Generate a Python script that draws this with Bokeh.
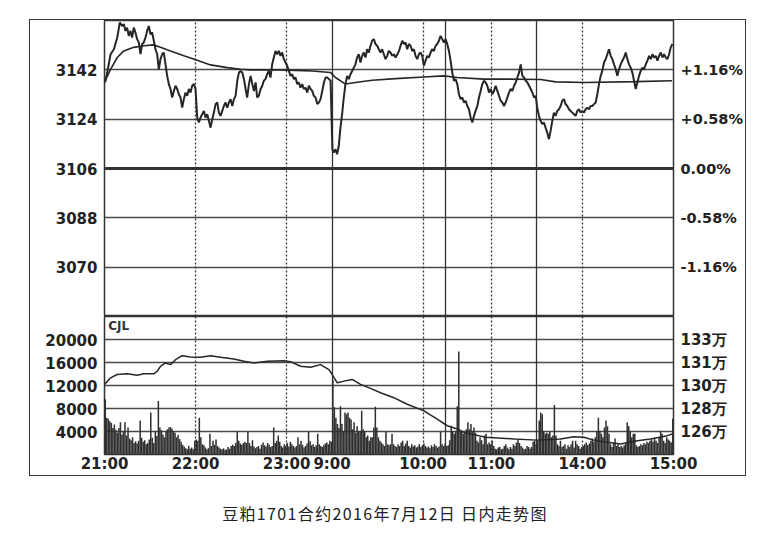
from bokeh.plotting import figure
from bokeh.models import Range1d, LinearAxis, FixedTicker, Grid, Span, Label, Div, Spacer
from bokeh.layouts import column, row
from bokeh.embed import file_html
from bokeh.resources import INLINE

# ---------------- data ----------------
prev_close = 3106
price_ticks = [3070, 3088, 3106, 3124, 3142]
pct_labels = ["-1.16%", "-0.58%", "0.00%", "+0.58%", "+1.16%"]
vol_ticks = [4000, 8000, 12000, 16000, 20000]
oi_labels = ["126万", "128万", "130万", "131万", "133万"]
time_ticks = [0, 60, 120, 150, 210, 255, 315, 375]          # trading-minute offsets
time_labels = ["21:00", "22:00", "23:00", "9:00", "10:00", "11:00", "14:00", "15:00"]
hour_marks = [60, 120, 210, 255, 315]       # dotted hour lines
session_breaks = [150, 225, 285]            # solid session breaks
caption_text = "豆粕1701合约2016年7月12日 日内走势图"

price_min = [0.4, 1.8, 4.0, 6.2, 8.4, 10.1, 11.6, 12.7, 13.8, 14.9, 16.0, 17.1, 18.2, 19.3, 20.4, 21.5, 22.6, 23.7, 24.8, 25.9,
             27.0, 28.1, 29.2, 30.3, 31.4, 32.5, 33.6, 34.7, 35.8, 36.9, 38.0, 39.1, 40.2, 41.3, 42.4, 43.5, 44.6, 45.7, 46.8, 47.9,
             49.0, 50.1, 51.2, 52.3, 53.4, 54.5, 55.6, 56.7, 57.8, 58.9, 60.0, 61.1, 62.2, 63.3, 64.4, 65.5, 66.6, 67.7, 68.8, 69.9,
             71.0, 72.1, 73.2, 74.3, 75.4, 76.5, 77.6, 78.7, 79.8, 80.9, 82.0, 83.1, 84.2, 85.3, 86.4, 87.5, 88.6, 89.7, 90.8, 91.9,
             93.0, 94.0, 95.2, 96.3, 97.4, 98.5, 99.6, 100.6, 101.7, 102.9, 104.0, 105.0, 106.1, 107.2, 108.3, 109.4, 110.5, 111.6, 112.7, 113.8,
             114.9, 116.0, 117.1, 118.2, 119.3, 120.4, 121.5, 122.6, 123.7, 124.8, 125.9, 127.0, 128.1, 129.2, 130.3, 131.4, 132.5, 133.6, 134.7, 135.8,
             136.9, 138.0, 139.1, 140.2, 141.3, 142.4, 143.5, 144.6, 145.7, 146.8, 147.9, 149.0,
             150.2, 151.1, 152.2, 153.3, 154.4, 155.5, 156.6, 157.7, 158.8, 159.9, 161.0, 162.1, 163.2, 164.3, 165.4, 166.5, 167.6, 168.7,
             169.8, 170.9, 172.0, 173.1, 174.2, 175.3, 176.4, 177.5, 178.6, 179.7, 180.8, 181.9, 183.0, 184.1, 185.2, 186.3, 187.4, 188.5,
             189.6, 190.7, 191.8, 193.0, 194.1, 195.1, 196.3, 197.3, 198.4, 199.5, 200.6, 201.7, 202.8, 203.9, 205.0, 206.1, 207.2, 208.3,
             209.4, 210.5, 211.6, 212.7, 213.8, 214.9, 216.0, 217.1, 218.2, 219.3, 220.4, 221.5, 222.6, 223.7, 224.8,
             225.9, 227.0, 228.1, 229.2, 230.3, 231.4, 232.5, 233.6, 234.7, 235.8, 236.9, 238.0, 239.1, 240.2, 241.3, 242.4, 243.5, 244.6,
             245.7, 246.8, 247.9, 249.0, 250.1, 251.2, 252.3, 253.4, 254.5, 255.6, 256.7, 257.8, 258.9, 260.0, 261.1, 262.2, 263.3, 264.4,
             265.5, 266.6, 267.7, 268.8, 269.9, 271.0, 272.1, 273.2, 274.3, 275.4, 276.5, 277.6, 278.7, 279.8, 280.9, 282.0, 283.1, 284.2,
             285.2, 286.3, 287.4, 288.5, 289.6, 290.7, 291.8, 292.9, 294.0, 295.1, 296.2, 297.3, 298.4, 299.5, 300.6, 301.7, 302.8, 303.9,
             305.0, 306.1, 307.2, 308.3, 309.4, 310.5, 311.6, 312.7, 313.8, 314.9, 316.0, 317.1, 318.2, 319.3, 320.4, 321.5, 322.6, 323.7,
             324.8, 325.9, 327.0, 328.1, 329.2, 330.3, 331.4, 332.5, 333.6, 334.7, 335.8, 336.9, 338.0, 339.1, 340.2, 341.3, 342.4, 343.5,
             344.6, 345.7, 346.8, 347.9, 349.0, 350.1, 351.2, 352.3, 353.4, 354.5, 355.6, 356.7, 357.8, 358.9, 360.0, 361.1, 362.2, 363.3,
             364.4, 365.5, 366.6, 367.7, 368.8, 369.9, 371.0, 372.1, 373.2, 374.3]
price_val = [3137.4, 3141.0, 3147.7, 3149.5, 3153.8, 3159.3, 3158.0, 3158.7, 3156.2, 3157.4, 3154.4, 3156.2, 3153.8, 3157.4, 3155.6, 3153.2, 3152.0, 3147.7, 3151.4, 3152.0,
             3153.8, 3156.2, 3158.0, 3155.0, 3155.6, 3152.6, 3149.5, 3147.7, 3142.2, 3145.9, 3147.7, 3148.3, 3144.0, 3139.8, 3136.8, 3135.0, 3131.9, 3134.3, 3136.2, 3135.0,
             3133.1, 3131.9, 3128.2, 3131.3, 3133.7, 3132.5, 3135.0, 3133.7, 3136.2, 3136.8, 3135.0, 3124.6, 3122.8, 3124.6, 3125.8, 3127.0, 3124.6, 3125.8, 3123.4, 3120.9,
             3124.0, 3126.4, 3129.5, 3130.1, 3126.4, 3125.2, 3127.0, 3128.8, 3130.1, 3128.2, 3130.1, 3131.3, 3128.8, 3131.3, 3132.5, 3138.0, 3141.0, 3141.6, 3141.0, 3138.6,
             3135.0, 3131.9, 3136.8, 3139.8, 3136.8, 3134.3, 3137.4, 3131.9, 3132.5, 3135.0, 3136.2, 3138.0, 3138.6, 3140.4, 3141.6, 3139.2, 3144.0, 3146.5, 3148.9, 3147.7,
             3148.9, 3147.1, 3148.3, 3145.9, 3144.7, 3143.5, 3141.6, 3139.8, 3140.4, 3138.6, 3139.2, 3136.8, 3137.4, 3135.5, 3136.8, 3135.0, 3135.5, 3133.7, 3136.2, 3135.0,
             3134.3, 3132.5, 3131.9, 3129.5, 3130.1, 3131.3, 3134.3, 3137.4, 3139.2, 3139.2, 3138.6, 3138.0,
             3113.0, 3111.8, 3113.0, 3111.2, 3114.2, 3120.9, 3125.8, 3131.9, 3136.8, 3139.8, 3138.6, 3140.4, 3141.6, 3142.8, 3144.0, 3146.5, 3147.7, 3144.7,
             3147.1, 3148.3, 3146.5, 3149.5, 3148.3, 3150.8, 3152.6, 3153.2, 3151.4, 3150.8, 3149.5, 3148.3, 3149.5, 3147.7, 3145.9, 3147.1, 3148.9, 3148.3,
             3147.1, 3147.7, 3146.5, 3147.7, 3148.9, 3150.8, 3152.6, 3151.4, 3152.0, 3149.5, 3151.4, 3150.8, 3148.9, 3149.5, 3147.1, 3145.9, 3147.7, 3148.3,
             3147.1, 3143.5, 3145.3, 3147.1, 3146.5, 3148.3, 3149.5, 3148.9, 3150.8, 3151.4, 3152.6, 3154.4, 3153.2, 3152.0, 3153.2,
             3151.4, 3148.9, 3145.3, 3141.0, 3138.0, 3138.6, 3136.8, 3133.1, 3131.3, 3131.9, 3130.1, 3130.7, 3128.8, 3127.6, 3124.6, 3122.8, 3125.2, 3127.0,
             3128.8, 3131.9, 3134.3, 3136.8, 3138.0, 3137.4, 3136.2, 3133.7, 3135.0, 3133.1, 3134.3, 3136.2, 3134.3, 3132.5, 3130.7, 3130.1, 3128.8, 3130.1,
             3131.9, 3133.7, 3135.0, 3134.3, 3136.2, 3137.4, 3139.2, 3141.0, 3144.0, 3139.8, 3139.2, 3138.0, 3137.4, 3136.2, 3135.0, 3133.7, 3131.9, 3132.5,
             3128.2, 3125.2, 3123.4, 3122.2, 3122.8, 3120.9, 3119.1, 3116.7, 3119.7, 3123.4, 3126.4, 3125.2, 3127.0, 3127.6, 3128.8, 3130.7, 3131.3, 3129.5,
             3128.8, 3127.6, 3127.0, 3126.4, 3125.8, 3125.2, 3127.0, 3127.6, 3126.4, 3127.0, 3126.4, 3127.6, 3128.2, 3127.6, 3128.8, 3128.8, 3129.5, 3130.1,
             3133.1, 3136.8, 3139.8, 3141.6, 3144.7, 3145.9, 3147.7, 3149.5, 3147.1, 3145.9, 3144.0, 3142.2, 3139.8, 3142.2, 3144.0, 3145.3, 3146.5, 3148.3,
             3145.9, 3144.0, 3142.8, 3141.0, 3138.0, 3135.0, 3137.4, 3139.8, 3141.6, 3142.8, 3142.2, 3144.0, 3145.3, 3147.1, 3145.9, 3147.7, 3146.5, 3147.1,
             3145.3, 3147.1, 3148.3, 3146.5, 3147.7, 3146.5, 3145.9, 3147.7, 3150.2, 3151.4]

avg_min = [0.4, 4.0, 8.4, 12.7, 19.3, 25.9, 32.5, 36.9, 43.5, 52.3, 61.1, 69.9, 80.9, 89.7, 96.3, 114.9, 136.9, 149.0,
           152.2, 158.8, 165.4, 176.4, 191.8, 210.5, 223.7, 232.5, 250.1, 265.5, 287.5, 297.3, 317.1, 350.1, 374.0]
avg_val = [3138.0, 3142.2, 3146.5, 3148.9, 3150.2, 3150.8, 3151.1, 3150.2, 3148.9, 3147.1, 3145.5, 3143.8, 3142.8, 3142.2, 3142.0, 3142.0, 3141.6, 3141.0,
           3139.2, 3136.8, 3137.4, 3138.2, 3138.8, 3139.4, 3139.8, 3139.2, 3138.6, 3138.6, 3138.5, 3137.6, 3137.4, 3137.7, 3138.0]

# open-interest line, drawn on the volume scale
oi_min = [0, 4.0, 8.3, 14.9, 21.5, 25.9, 32.5, 34.7, 36.9, 40.2, 43.5, 46.8, 51.2, 56.7, 63.3, 69.9, 76.5, 85.3, 91.9, 98.5,
          107.3, 118.2, 122.6, 129.2, 135.8, 142.4, 147.9, 150.1, 153.4, 157.8, 163.2, 168.7, 175.3, 181.9, 190.7, 199.5, 210.5,
          219.3, 225.9, 232.5, 236.9, 251.2, 270.0, 285.0, 300.6, 309.3, 315.9, 323.6, 331.3, 340.1, 351.1, 359.9, 370.9, 374.2]
oi_val = [12190, 13330, 13910, 14030, 13800, 14030, 14030, 14480, 15340, 15920, 15630, 16490, 17180, 16950, 16900, 17180, 16900, 16600, 16200, 15920,
          16200, 16320, 16150, 15340, 15170, 15630, 14770, 13910, 12470, 12760, 13050, 12190, 11500, 10750, 9880, 8740, 7590,
          6150, 5000, 4430, 3850, 2990, 2700, 2500, 2700, 3100, 3000, 2410, 2130, 1840, 2410, 2700, 3280, 3560]

volume = [9600, 6400, 6200, 5800, 5500, 4600, 5200, 4300, 3800, 4600,
          5600, 3500, 4000, 5600, 3300, 4700, 2800, 2500, 3000, 2000,
          2300, 1900, 2400, 5900, 2900, 2200, 2500, 1800, 2000, 2600,
          7300, 2900, 2000, 4100, 3200, 9300, 4700, 4200, 3500, 3000,
          4100, 4400, 4700, 4800, 4500, 4100, 3800, 3000, 3400, 2700,
          2200, 1700, 1400, 1100, 900, 1500, 1000, 1200, 900, 2400,
          2600, 2400, 6400, 3000, 1800, 1600, 1200, 900, 1100, 3600,
          1500, 2400, 1700, 2600, 1500, 1200, 1000, 900, 1100, 800,
          900, 1300, 1000, 1500, 1700, 1500, 2000, 4100, 2400, 1900,
          1700, 2000, 2200, 2000, 3900, 2000, 1500, 2500, 1400, 1100,
          1300, 1500, 1000, 1700, 2100, 1600, 1400, 2000, 1700, 1300,
          1500, 4700, 2000, 2400, 3300, 2200, 1500, 1200, 1800, 1500,
          2000, 1400, 2200, 1800, 1500, 1200, 1500, 3000, 1800, 2400,
          1700, 1200, 1500, 1900, 3900, 2300, 1600, 1800, 1300, 1600,
          3600, 1800, 1500, 1300, 1600, 1900, 2100, 1800, 2400, 2200,
          13000, 8200, 6400, 5300, 4600, 8400, 5300, 4100, 7300, 7000,
          7300, 6400, 6100, 4400, 5600, 3800, 4900, 4100, 4100, 7600,
          4400, 4100, 3000, 3300, 2400, 3000, 3000, 4700, 8300, 4700,
          3000, 2400, 2100, 1800, 1500, 3900, 1800, 1600, 1800, 3600,
          1800, 1500, 1300, 1800, 1500, 2100, 2400, 1500, 1900, 2400,
          1500, 1200, 1800, 1400, 1600, 1200, 1400, 1800, 1300, 1600,
          1900, 1500, 1200, 1400, 1100, 1600, 1300, 1800, 1500, 1200,
          1400, 3900, 1800, 1500, 1900, 1500, 1600, 2500, 5000, 4100,
          3600, 4100, 8400, 17900, 3900, 4100, 3600, 3900, 4400, 5600,
          4400, 5300, 4100, 4700, 3800, 2400, 2100, 3000, 2500, 1800,
          3300, 3600, 1800, 2100, 1800, 2400, 1500, 1000, 900, 1200,
          1300, 900, 1000, 1500, 1800, 1200, 900, 1300, 1000, 1800,
          1500, 2100, 2600, 2000, 1500, 1200, 900, 1000, 1500, 1300,
          1000, 1300, 2200, 2400, 1800, 2400, 5900, 7300, 7000, 4100,
          3600, 3800, 3600, 4100, 3000, 3300, 8600, 3300, 1800, 1500,
          2400, 1300, 1500, 1800, 1000, 1600, 1300, 1800, 2400, 1200,
          2400, 1800, 1500, 1000, 1300, 1500, 1800, 2100, 1600, 1900,
          2400, 2800, 2200, 3000, 4100, 6400, 4100, 3600, 3000, 4700,
          5900, 4900, 3600, 1800, 1300, 2000, 2800, 1500, 1800, 1300,
          1500, 1200, 1600, 1900, 5600, 4900, 4100, 3000, 3600, 3600,
          1600, 1300, 1500, 1800, 1600, 2000, 1800, 2200, 2000, 2400,
          2600, 2200, 2900, 2400, 2000, 3000, 4100, 3600, 2400, 2000,
          3000, 2600, 2400, 2100, 6200]
vol_x = [m + 0.5 for m in range(len(volume))]

# ---------------- styling helpers ----------------
FONT = "DejaVu Sans"
INK = "#262626"
GRID = "#4a4a4a"


def style_axis(ax, standoff, size="15px"):
    ax.axis_line_color = None
    ax.major_tick_line_color = None
    ax.minor_tick_line_color = None
    ax.major_tick_out = 0
    ax.major_tick_in = 0
    ax.major_label_standoff = standoff
    ax.major_label_text_font = FONT
    ax.major_label_text_font_style = "bold"
    ax.major_label_text_font_size = size
    ax.major_label_text_color = "#222222"


def add_grids(p, yticks):
    for g in p.grid:
        g.visible = False
    p.add_layout(Grid(dimension=1, ticker=FixedTicker(ticks=yticks),
                      grid_line_color=GRID, grid_line_width=1.3))
    p.add_layout(Grid(dimension=0, ticker=FixedTicker(ticks=hour_marks),
                      grid_line_color="#333333", grid_line_width=1.3, grid_line_dash="2 2"))
    p.add_layout(Grid(dimension=0, ticker=FixedTicker(ticks=session_breaks),
                      grid_line_color="#333333", grid_line_width=1.3))


xr = Range1d(0, 375)

# ---------------- price panel ----------------
p1 = figure(frame_width=569, frame_height=296, x_range=xr, y_range=Range1d(3052, 3160),
            x_axis_location=None, y_axis_location="left", toolbar_location=None,
            output_backend="svg", min_border_left=74, min_border_right=69,
            min_border_top=0, min_border_bottom=0, background_fill_color="white",
            border_fill_color="white", outline_line_color="#333333", outline_line_width=1.5)
p1.yaxis.ticker = FixedTicker(ticks=price_ticks)
style_axis(p1.yaxis[0], 7)
r1 = LinearAxis(ticker=FixedTicker(ticks=price_ticks),
                major_label_overrides=dict(zip(price_ticks, pct_labels)))
style_axis(r1, 7, "14.5px")
p1.add_layout(r1, "right")
add_grids(p1, price_ticks)
p1.add_layout(Span(location=prev_close, dimension="width", line_color="#333333", line_width=3))

p1.line(avg_min, avg_val, line_color=INK, line_width=1.6)
p1.line(price_min, price_val, line_color=INK, line_width=2.0)

# ---------------- volume panel ----------------
p2 = figure(frame_width=569, frame_height=138, x_range=xr, y_range=Range1d(0, 24000),
            toolbar_location=None, output_backend="svg", min_border_left=74,
            min_border_right=69, min_border_top=0, min_border_bottom=16,
            background_fill_color="white", border_fill_color="white",
            outline_line_color="#333333", outline_line_width=1.5)
p2.yaxis.ticker = FixedTicker(ticks=vol_ticks)
style_axis(p2.yaxis[0], 7)
r2 = LinearAxis(ticker=FixedTicker(ticks=vol_ticks),
                major_label_overrides=dict(zip(vol_ticks, oi_labels)))
style_axis(r2, 7)
p2.add_layout(r2, "right")
p2.xaxis.ticker = FixedTicker(ticks=time_ticks)
p2.xaxis.major_label_overrides = dict(zip(time_ticks, time_labels))
style_axis(p2.xaxis[0], 0)
add_grids(p2, vol_ticks)

p2.vbar(x=vol_x, top=volume, width=1.0, bottom=0, fill_color="#303030", line_color=None)
p2.line(oi_min, oi_val, line_color=INK, line_width=1.5)
p2.add_layout(Label(x=2.5, y=23500, text="CJL", text_baseline="top", text_align="left",
                    text_font=FONT, text_font_size="12px", text_font_style="bold",
                    text_color="#333333"))

framed = column(p1, p2, styles={"outline": "1.5px solid #3a3a3a"})
caption = Div(text=caption_text, width=712, height=24,
              styles={"text-align": "center", "font-family": "'Noto Sans CJK SC', sans-serif",
                      "font-size": "16px", "line-height": "24px", "color": "#222222",
                      "letter-spacing": "1.35px"})

layout = column(Spacer(height=20), row(Spacer(width=30), framed),
                Spacer(height=21), row(Spacer(width=24), caption))

open("out.html", "w").write(file_html(layout, INLINE))
